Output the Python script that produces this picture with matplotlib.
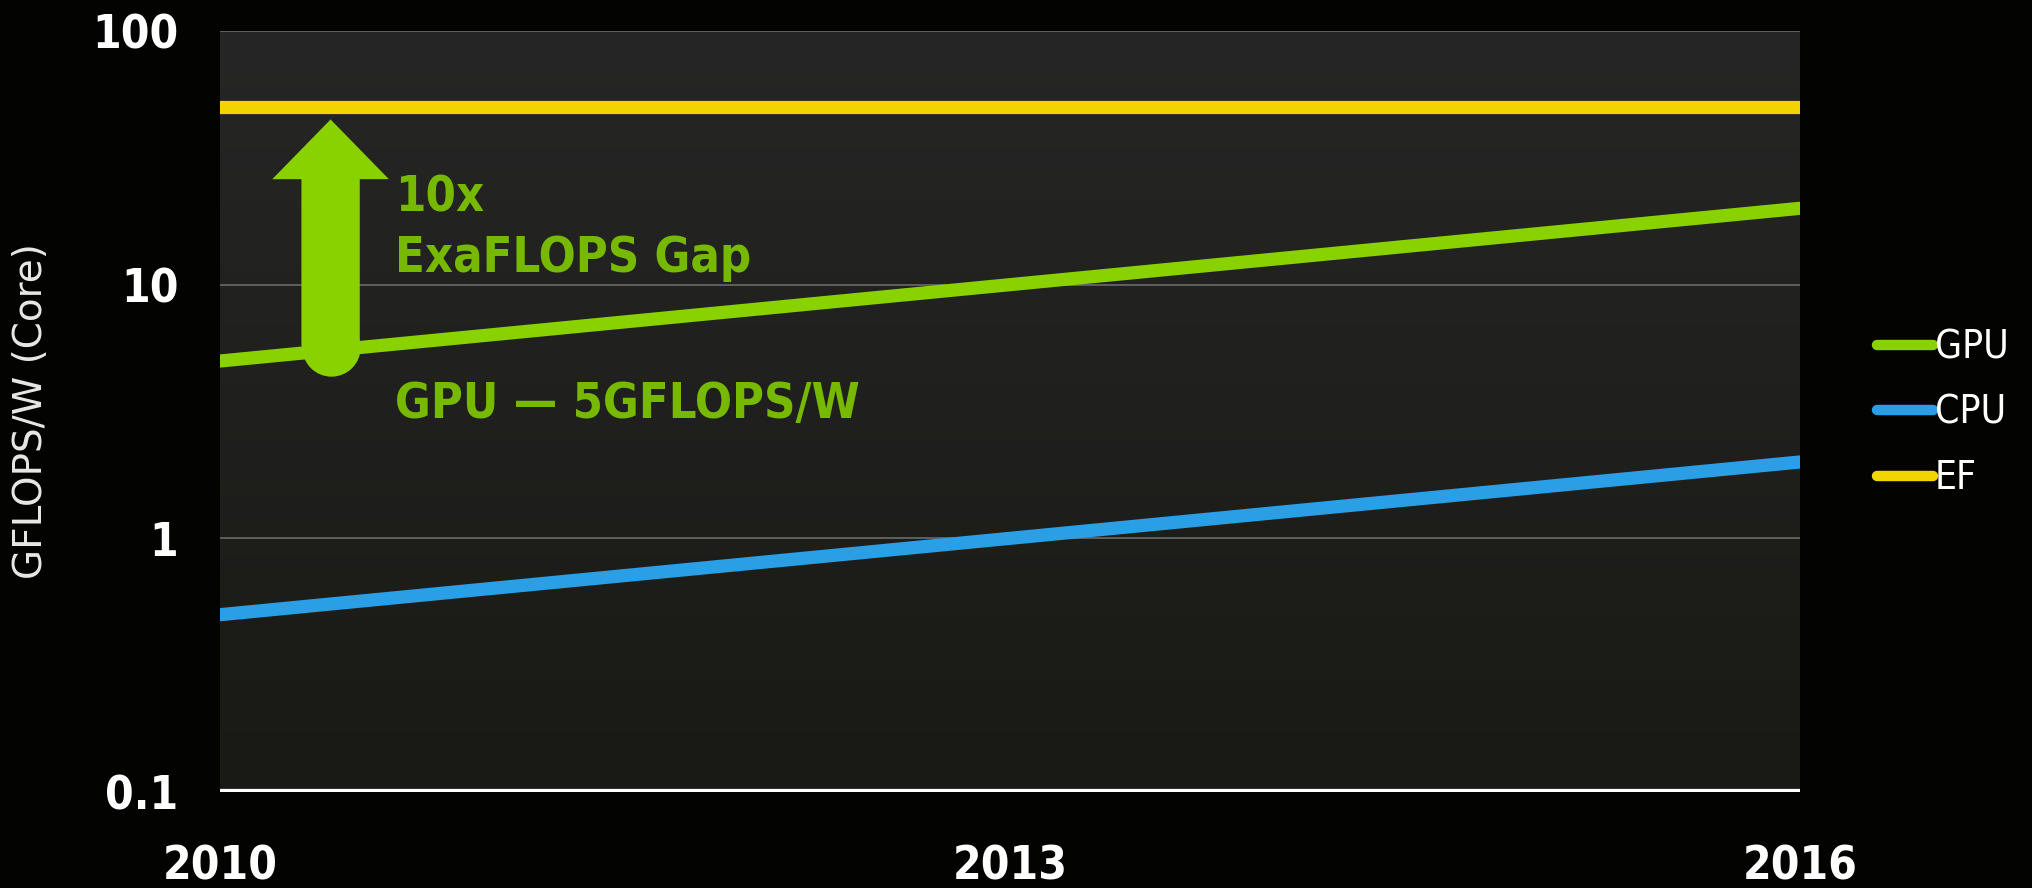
import numpy as np
import matplotlib.pyplot as plt
from matplotlib.colors import LinearSegmentedColormap

# Data
years = [2010, 2016]
gpu = [5, 20]
cpu = [0.5, 2]
ef = [50, 50]
series = ["GPU", "CPU", "EF"]
x_ticks = [2010, 2013, 2016]
y_ticks = [0.1, 1, 10, 100]
y_tick_labels = ["0.1", "1", "10", "100"]

green = "#8ad100"
blue = "#2b9fe6"
yellow = "#f2d500"
text_green = "#76b900"

cond = dict(family="DejaVu Sans", stretch="condensed")

fig = plt.figure(figsize=(20.33, 8.88), dpi=100, facecolor="#030402")
W, H = 2033, 888
ax = fig.add_axes([220 / W, 1 - 792 / H, 1580 / W, 761 / H])
ax.set_facecolor("#030402")

# plot-area gradient
grad = np.linspace(0, 1, 256).reshape(-1, 1)
ax.imshow(grad, extent=[0, 1, 0, 1], transform=ax.transAxes, aspect="auto",
          cmap=LinearSegmentedColormap.from_list("bg", ["#191915", "#262626"]),
          zorder=0, origin="lower")

ax.plot(years, gpu, color=green, lw=9.5, solid_capstyle="round", label=series[0], zorder=3)
ax.plot(years, cpu, color=blue, lw=9.5, solid_capstyle="round", label=series[1], zorder=3)
ax.plot(years, ef, color=yellow, lw=9.5, solid_capstyle="round", label=series[2], zorder=3)

ax.set_yscale("log")
ax.set_ylim(0.1, 100)
ax.set_xlim(2010, 2016)

# horizontal grid lines
for v in [1, 10, 100]:
    ax.axhline(v, color="#6a6a6a", lw=1.2, zorder=1)
ax.axhline(0.1, color="white", lw=4.5, zorder=4)

for s in ax.spines.values():
    s.set_visible(False)

ax.set_yticks(y_ticks)
ax.set_yticklabels(y_tick_labels)
ax.yaxis.set_minor_locator(plt.NullLocator())
ax.set_xticks(x_ticks)
ax.set_xticklabels([str(y) for y in x_ticks])
ax.tick_params(axis="both", length=0, colors="white")
ax.tick_params(axis="y", pad=30)
ax.tick_params(axis="x", pad=38)
for lab in ax.get_yticklabels() + ax.get_xticklabels():
    lab.set_fontfamily("DejaVu Sans")
    lab.set_fontstretch("condensed")
    lab.set_fontweight("bold")
    lab.set_fontsize(33)

fig.text(31 / W, 1 - 411 / H, "GFLOPS/W (Core)", rotation=90, va="center", ha="center",
         color="#e8e8e8", fontsize=28, family="DejaVu Sans")

# gap arrow, from GPU level up to the EF line
arrow_x = 2010.42
ax.annotate("", xy=(arrow_x, 44.8), xytext=(arrow_x, 5.7),
            arrowprops=dict(arrowstyle="simple,head_length=4.3,head_width=8.4,tail_width=4.2",
                            fc=green, ec="none", shrinkA=0, shrinkB=0, mutation_scale=10),
            zorder=5)
ax.plot([arrow_x], [5.7], "o", ms=42, color=green, mec="none", zorder=5)

for txt, yb in [("10x", 211), ("ExaFLOPS Gap", 272), ("GPU \u2014 5GFLOPS/W", 418)]:
    fig.text(395 / W, 1 - yb / H, txt, color=text_green, fontsize=35, fontweight="bold",
             va="baseline", ha="left", **cond)

leg = ax.legend(loc="center left", bbox_to_anchor=(1858 / W, 1 - 413 / H),
                bbox_transform=fig.transFigure, frameon=False, handlelength=1.43,
                handletextpad=0.05, labelspacing=0.70, borderpad=0, labelcolor="white",
                prop=dict(size=28, **cond))
for h in leg.get_lines():
    h.set_linewidth(7.5)
    h.set_solid_capstyle("round")

fig.savefig("out.png", dpi=100, facecolor=fig.get_facecolor())
